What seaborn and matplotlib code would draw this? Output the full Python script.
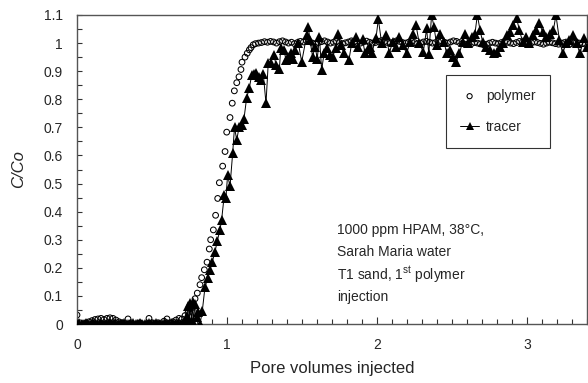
import numpy as np
import pandas as pd
import matplotlib
matplotlib.use('Agg')
import matplotlib.pyplot as plt
import seaborn as sns
from matplotlib.ticker import MultipleLocator, FixedLocator, FixedFormatter

# ---- data ----
# polymer baseline, sampled every 0.02 PV from 0 to 0.70
poly_base_x0, poly_base_dx = 0.0, 0.02
poly_base_y = [0.032, 0.004, 0.0, 0.004, 0.008, 0.012, 0.016, 0.018, 0.02, 0.016,
               0.02, 0.022, 0.02, 0.014, 0.008, 0.004, 0.0, 0.018, 0.004, 0.0,
               0.0, 0.004, 0.0, 0.0, 0.02, 0.004, 0.0, 0.004, 0.0, 0.01,
               0.018, 0.004, 0.008, 0.014, 0.02, 0.018]
# polymer rise (explicit points)
poly_rise_x = [0.72, 0.74, 0.76, 0.775, 0.787, 0.802, 0.82, 0.831, 0.849, 0.867,
               0.882, 0.891, 0.909, 0.924, 0.938, 0.949, 0.971, 0.987, 0.998, 1.02,
               1.035, 1.049, 1.065, 1.08, 1.093, 1.10, 1.12, 1.135, 1.149, 1.16,
               1.175, 1.19]
poly_rise_y = [0.03, 0.04, 0.055, 0.072, 0.09, 0.11, 0.14, 0.165, 0.193, 0.22,
               0.267, 0.3, 0.335, 0.387, 0.447, 0.503, 0.562, 0.614, 0.683, 0.735,
               0.786, 0.83, 0.859, 0.88, 0.906, 0.932, 0.95, 0.964, 0.976, 0.984,
               0.994, 0.998]
# polymer plateau, sampled every 0.02 PV from 1.21
poly_plat_x0, poly_plat_dx = 1.21, 0.02
poly_plat_y = [1.0, 1.002, 1.005, 1.003, 1.006, 1.004, 1.0, 1.005, 1.008, 1.004,
               1.0, 1.003, 0.998, 1.002, 1.006, 1.004, 1.008, 1.005, 1.0, 0.997,
               1.002, 1.005, 1.008, 1.004, 1.0, 1.003, 1.006, 1.002, 0.998, 1.001,
               1.004, 1.008, 1.006, 1.002, 1.0, 1.004, 1.007, 1.003, 1.0, 1.002,
               1.006, 1.009, 1.005, 1.002, 1.0, 1.004, 1.008, 1.006, 1.002, 1.0,
               1.003, 1.006, 1.002, 0.998, 1.0, 1.004, 1.006, 1.003, 1.0, 1.002,
               1.005, 1.007, 1.003, 1.0, 1.004, 1.008, 1.006, 1.002, 0.998, 0.996,
               0.995, 0.998, 1.002, 1.0, 0.997, 0.994, 0.996, 1.0, 1.003, 1.0,
               0.998, 1.002, 1.005, 1.003, 1.0, 0.998, 1.002, 1.006, 1.004, 1.0,
               0.998, 1.001, 1.004, 1.002, 0.999, 0.996, 1.0, 1.003, 1.001, 0.998,
               0.996, 1.0, 1.002, 0.999, 0.997, 1.0, 1.003, 1.0, 0.998, 0.996]

# tracer baseline, sampled every 0.015 PV from 0
tr_base_x0, tr_base_dx = 0.0, 0.015
tr_base_y = [0.0, 0.002, 0.0, 0.0, 0.003, 0.0, 0.0, 0.002, 0.0, 0.0,
             0.003, 0.0, 0.0, 0.0, 0.002, 0.0, 0.0, 0.003, 0.0, 0.0,
             0.0, 0.002, 0.0, 0.0, 0.0, 0.003, 0.0, 0.0, 0.002, 0.0,
             0.0, 0.0, 0.003, 0.0, 0.0, 0.002, 0.0, 0.0, 0.0, 0.003,
             0.0, 0.0, 0.002, 0.0, 0.0, 0.004, 0.0]
# tracer rise and plateau (explicit points)
tr_x = [0.705, 0.72, 0.732, 0.742, 0.748, 0.753, 0.764, 0.770, 0.776, 0.787,
        0.798, 0.809, 0.820, 0.835, 0.853, 0.871, 0.887, 0.902, 0.920, 0.935,
        0.953, 0.964, 0.982, 0.993, 1.004, 1.02, 1.038, 1.05, 1.065, 1.08,
        1.098, 1.113, 1.131, 1.149, 1.164, 1.18, 1.195, 1.21, 1.227, 1.242,
        1.26, 1.275, 1.29, 1.313, 1.327, 1.349, 1.358, 1.38, 1.393, 1.409,
        1.424, 1.438, 1.453, 1.476, 1.498, 1.531, 1.542, 1.553, 1.571, 1.587,
        1.602, 1.616, 1.631, 1.647, 1.664, 1.687, 1.704, 1.724, 1.742, 1.758,
        1.78, 1.813, 1.831, 1.86, 1.876, 1.904, 1.92, 1.938, 1.953, 1.964,
        1.993, 2.009, 2.031, 2.06, 2.082, 2.104, 2.127, 2.149, 2.171, 2.198,
        2.22, 2.238, 2.26, 2.282, 2.309, 2.331, 2.345, 2.364, 2.38, 2.398,
        2.42, 2.447, 2.464, 2.487, 2.504, 2.527, 2.549, 2.571, 2.587, 2.609,
        2.631, 2.653, 2.669, 2.687, 2.704, 2.727, 2.753, 2.78, 2.802, 2.82,
        2.842, 2.864, 2.887, 2.909, 2.931, 2.949, 2.971, 2.993, 3.016, 3.038,
        3.06, 3.082, 3.104, 3.127, 3.153, 3.176, 3.193, 3.216, 3.238, 3.26,
        3.282, 3.304, 3.331, 3.353, 3.38, 3.398]
tr_y = [0.005, 0.01, 0.03, 0.065, 0.015, 0.074, 0.008, 0.079, 0.008, 0.072,
        0.026, 0.044, 0.0, 0.045, 0.13, 0.163, 0.192, 0.222, 0.257, 0.295,
        0.335, 0.37, 0.46, 0.45, 0.53, 0.49, 0.61, 0.70, 0.655, 0.70,
        0.71, 0.73, 0.805, 0.84, 0.885, 0.89, 0.895, 0.88, 0.87, 0.89,
        0.785, 0.93, 0.93, 0.957, 0.922, 0.906, 0.981, 0.975, 0.94, 0.951,
        0.965, 0.945, 0.975, 0.999, 0.933, 1.028, 1.058, 1.011, 0.951, 0.987,
        0.945, 1.023, 0.904, 0.963, 0.981, 0.957, 0.951, 0.981, 1.034, 0.993,
        0.963, 0.94, 0.999, 1.023, 0.987, 1.013, 0.963, 0.978, 0.987, 0.963,
        1.017, 1.085, 0.999, 1.028, 0.963, 1.005, 0.987, 1.023, 0.993, 0.963,
        1.005, 1.034, 1.064, 0.999, 0.969, 1.052, 0.96, 1.10, 1.058, 0.993,
        1.034, 1.005, 0.963, 0.975, 0.951, 0.933, 0.963, 1.005, 1.034, 0.999,
        1.023, 1.034, 1.10, 1.046, 1.005, 0.987, 0.975, 0.963, 0.969, 0.987,
        0.999, 1.028, 1.04, 1.064, 1.088, 1.046, 1.005, 1.023, 0.999, 1.028,
        1.046, 1.07, 1.04, 1.023, 1.034, 1.046, 1.10, 1.011, 0.963, 0.999,
        1.011, 1.028, 0.999, 0.963, 1.017, 0.987]

y_ticks = [0, 0.1, 0.2, 0.3, 0.4, 0.5, 0.6, 0.7, 0.8, 0.9, 1.0, 1.1]
y_labels = ['0', '0.1', '0.2', '0.3', '0.4', '0.5', '0.6', '0.7', '0.8', '0.9', '1', '1.1']
x_ticks = [0, 1, 2, 3]
note_lines = ['1000 ppm HPAM, 38°C,', 'Sarah Maria water',
              'T1 sand, 1$^{\\mathrm{st}}$ polymer', 'injection']

# build tables
poly_df = pd.DataFrame({
    'pv': np.concatenate([poly_base_x0 + poly_base_dx * np.arange(len(poly_base_y)),
                          poly_rise_x,
                          poly_plat_x0 + poly_plat_dx * np.arange(len(poly_plat_y))]),
    'c': poly_base_y + poly_rise_y + poly_plat_y})
tracer_df = pd.DataFrame({
    'pv': np.concatenate([tr_base_x0 + tr_base_dx * np.arange(len(tr_base_y)), tr_x]),
    'c': tr_base_y + tr_y})

# ---- plot ----
sns.set_style('ticks')
plt.rcParams['font.family'] = ['Liberation Sans', 'DejaVu Sans']
plt.rcParams['mathtext.fontset'] = 'custom'
plt.rcParams['mathtext.rm'] = 'Liberation Sans'
plt.rcParams['mathtext.it'] = 'Liberation Sans:italic'

fig = plt.figure(figsize=(5.88, 3.83), dpi=100)
ax = fig.add_axes([77 / 588, 59 / 383, 510 / 588, 309 / 383])

sns.scatterplot(data=poly_df, x='pv', y='c', ax=ax, marker='o', s=17,
                facecolor='none', edgecolor='black', linewidth=0.75, label='polymer', zorder=2)
sns.lineplot(data=tracer_df, x='pv', y='c', ax=ax, color='black', linewidth=0.7,
             marker='^', markersize=6.5, markeredgewidth=0, estimator=None, sort=False,
             label='tracer', zorder=3)

ax.set_xlim(0, 3.4)
ax.set_ylim(0, 1.1)
ax.xaxis.set_major_locator(FixedLocator(x_ticks))
ax.xaxis.set_minor_locator(MultipleLocator(0.1))
ax.yaxis.set_major_locator(FixedLocator(y_ticks))
ax.yaxis.set_major_formatter(FixedFormatter(y_labels))
ax.yaxis.set_minor_locator(MultipleLocator(0.05))
ax.tick_params(which='both', direction='in', color='#333333', width=0.8, labelsize=10)
ax.tick_params(axis='x', which='major', length=5, pad=10)
ax.tick_params(axis='x', which='minor', length=3.5)
ax.tick_params(axis='y', which='major', length=3.5, pad=10)
ax.tick_params(axis='y', which='minor', length=3.5)
for sp in ax.spines.values():
    sp.set_visible(True)
    sp.set_color('#555555')
    sp.set_linewidth(1.0)

ax.set_xlabel('Pore volumes injected', fontsize=12)
ax.set_ylabel('C/Co', fontsize=12, style='italic')
ax.xaxis.set_label_coords(0.5, -0.12)
ax.yaxis.set_label_coords(-0.1, 0.5)

# note lines, one per row
for i, line in enumerate(note_lines):
    ax.text((337 - 77) / 510, (324 - 230 - 22.5 * i) / 309, line,
            transform=ax.transAxes, fontsize=10, va='center', ha='left')

leg = ax.legend(loc='upper left', bbox_to_anchor=(0.7235, 0.806), borderaxespad=0,
                fontsize=10, frameon=True, fancybox=False, edgecolor='black',
                handlelength=1.4, handletextpad=0.5, labelspacing=1.25,
                borderpad=1.0, markerscale=0.9)
leg.get_frame().set_linewidth(0.8)

fig.savefig('out.png', dpi=100)
